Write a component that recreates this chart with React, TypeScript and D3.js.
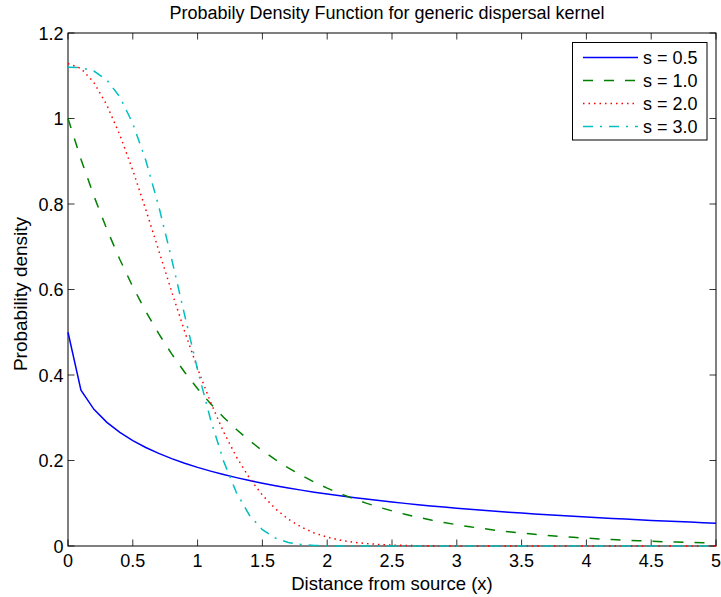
import * as d3 from "d3";
import { useEffect, useRef } from "react";

// sample distances
const distance = [
  0, 0.1, 0.2, 0.3, 0.4, 0.5, 0.6, 0.7, 0.8, 0.9,
  1.0, 1.1, 1.2, 1.3, 1.4, 1.5, 1.6, 1.7, 1.8, 1.9,
  2.0, 2.1, 2.2, 2.3, 2.4, 2.5, 2.6, 2.7, 2.8, 2.9,
  3.0, 3.1, 3.2, 3.3, 3.4, 3.5, 3.6, 3.7, 3.8, 3.9,
  4.0, 4.1, 4.2, 4.3, 4.4, 4.5, 4.6, 4.7, 4.8, 4.9, 5.0,
];

const density05 = [
  0.5, 0.3644, 0.3197, 0.2892, 0.2657, 0.2466, 0.2304, 0.2166, 0.2044, 0.1936,
  0.1839, 0.1752, 0.1672, 0.1599, 0.1532, 0.1469, 0.1411, 0.1358, 0.1307, 0.126,
  0.1216, 0.1174, 0.1135, 0.1097, 0.1062, 0.1029, 0.0997, 0.0967, 0.0938, 0.0911,
  0.0885, 0.086, 0.0836, 0.0813, 0.0791, 0.077, 0.075, 0.073, 0.0712, 0.0694,
  0.0677, 0.066, 0.0644, 0.0629, 0.0614, 0.0599, 0.0585, 0.0572, 0.0559, 0.0546, 0.0535,
];

const density10 = [
  1.0, 0.9048, 0.8187, 0.7408, 0.6703, 0.6065, 0.5488, 0.4966, 0.4493, 0.4066,
  0.3679, 0.3329, 0.3012, 0.2725, 0.2466, 0.2231, 0.2019, 0.1827, 0.1653, 0.1496,
  0.1353, 0.1225, 0.1108, 0.1003, 0.0907, 0.0821, 0.0743, 0.0672, 0.0608, 0.055,
  0.0498, 0.045, 0.0408, 0.0369, 0.0334, 0.0302, 0.0273, 0.0247, 0.0224, 0.0202,
  0.0183, 0.0166, 0.015, 0.0136, 0.0123, 0.0111, 0.0101, 0.0091, 0.0082, 0.0074, 0.0067,
];

const density20 = [
  1.1284, 1.1172, 1.0842, 1.0313, 0.9615, 0.8788, 0.7873, 0.6913, 0.595, 0.502,
  0.4151, 0.3365, 0.2673, 0.2082, 0.159, 0.1189, 0.0872, 0.0627, 0.0442, 0.0305,
  0.0207, 0.0137, 0.0089, 0.0057, 0.0036, 0.0022, 0.0013, 0.0008, 0.0004, 0.0002,
  0.0001, 0, 0, 0, 0, 0, 0, 0, 0, 0,
  0, 0, 0, 0, 0, 0, 0, 0, 0, 0, 0,
];

const density30 = [
  1.1199, 1.1188, 1.111, 1.0901, 1.0505, 0.9883, 0.9023, 0.7948, 0.6712, 0.5402,
  0.412, 0.2959, 0.1989, 0.1245, 0.072, 0.0383, 0.0186, 0.0082, 0.0033, 0.0012,
  0.0004, 0.0001, 0, 0, 0, 0, 0, 0, 0, 0,
  0, 0, 0, 0, 0, 0, 0, 0, 0, 0,
  0, 0, 0, 0, 0, 0, 0, 0, 0, 0, 0,
];

const seriesNames = ["s = 0.5", "s = 1.0", "s = 2.0", "s = 3.0"];
const seriesValues = [density05, density10, density20, density30];
const seriesColors = ["#0000ff", "#008000", "#ff0000", "#00bfbf"];
const seriesDash = [null, "10,11", "1.5,4", "10,7,2,7"];

const xTicks = [0, 0.5, 1, 1.5, 2, 2.5, 3, 3.5, 4, 4.5, 5];
const yTicks = [0, 0.2, 0.4, 0.6, 0.8, 1, 1.2];

const font = "Liberation Sans, Arial, Helvetica, sans-serif";

export default function App() {
  const svgRef = useRef(null);
  const width = 721;
  const height = 597;
  const left = 68, right = 716, top = 33, bottom = 546;

  useEffect(() => {
    const svg = d3.select(svgRef.current);
    svg.selectAll("*").remove();

    const x = d3.scaleLinear([0, 5], [left, right]);
    const y = d3.scaleLinear([0, 1.2], [bottom, top]);

    svg.append("rect")
      .attr("width", width).attr("height", height).attr("fill", "#fff");

    // title
    svg.append("text")
      .attr("x", 387).attr("y", 19)
      .attr("text-anchor", "middle")
      .attr("font-family", font).attr("font-size", 18)
      .text("Probabily Density Function for generic dispersal kernel");

    // tick marks on all four sides, pointing in
    const tickLen = 6.5;
    const ticks = svg.append("g").attr("stroke", "#000").attr("stroke-width", 0.8);
    xTicks.forEach(t => {
      ticks.append("line").attr("x1", x(t)).attr("x2", x(t)).attr("y1", bottom).attr("y2", bottom - tickLen);
      ticks.append("line").attr("x1", x(t)).attr("x2", x(t)).attr("y1", top).attr("y2", top + tickLen);
    });
    yTicks.forEach(t => {
      ticks.append("line").attr("x1", left).attr("x2", left + tickLen).attr("y1", y(t)).attr("y2", y(t));
      ticks.append("line").attr("x1", right).attr("x2", right - tickLen).attr("y1", y(t)).attr("y2", y(t));
    });

    // box
    svg.append("rect")
      .attr("x", left).attr("y", top)
      .attr("width", right - left).attr("height", bottom - top)
      .attr("fill", "none").attr("stroke", "#000").attr("stroke-width", 1);

    // tick labels
    svg.append("g").selectAll("text")
      .data(xTicks)
      .join("text")
      .attr("x", d => x(d)).attr("y", bottom + 21)
      .attr("text-anchor", "middle")
      .attr("font-family", font).attr("font-size", 18)
      .text(d => d3.format("")(d));

    svg.append("g").selectAll("text")
      .data(yTicks)
      .join("text")
      .attr("x", left - 4.5).attr("y", d => y(d) + 6.5)
      .attr("text-anchor", "end")
      .attr("font-family", font).attr("font-size", 18)
      .text(d => d3.format("")(d));

    // axis labels
    svg.append("text")
      .attr("x", 392).attr("y", 590)
      .attr("text-anchor", "middle")
      .attr("font-family", font).attr("font-size", 18.5)
      .text("Distance from source (x)");

    svg.append("text")
      .attr("transform", `translate(27, 294) rotate(-90)`)
      .attr("text-anchor", "middle")
      .attr("font-family", font).attr("font-size", 19)
      .text("Probability density");

    // curves
    const line = d3.line<number>()
      .x((_, i) => x(distance[i]))
      .y(d => y(d));

    seriesValues.forEach((vals, k) => {
      const p = svg.append("path")
        .attr("fill", "none")
        .attr("stroke", seriesColors[k])
        .attr("stroke-width", 1.5)
        .attr("d", line(vals));
      if (seriesDash[k]) p.attr("stroke-dasharray", seriesDash[k]);
    });

    // legend
    const lg = svg.append("g");
    lg.append("rect")
      .attr("x", 572.5).attr("y", 42.5)
      .attr("width", 134.5).attr("height", 97.5)
      .attr("fill", "#fff").attr("stroke", "#000").attr("stroke-width", 1);
    seriesNames.forEach((name, k) => {
      const ly = 57.5 + k * 23;
      const l = lg.append("line")
        .attr("x1", 583).attr("x2", 638)
        .attr("y1", ly).attr("y2", ly)
        .attr("stroke", seriesColors[k]).attr("stroke-width", 1.5);
      if (seriesDash[k]) l.attr("stroke-dasharray", seriesDash[k]);
      lg.append("text")
        .attr("x", 643).attr("y", ly + 6.5)
        .attr("font-family", font).attr("font-size", 18)
        .text(name);
    });
  }, []);

  return (
    <svg ref={svgRef} width={width} height={height}
      style={{ position: "absolute", left: 0, top: 0 }}
      xmlns="http://www.w3.org/2000/svg" />
  );
}
